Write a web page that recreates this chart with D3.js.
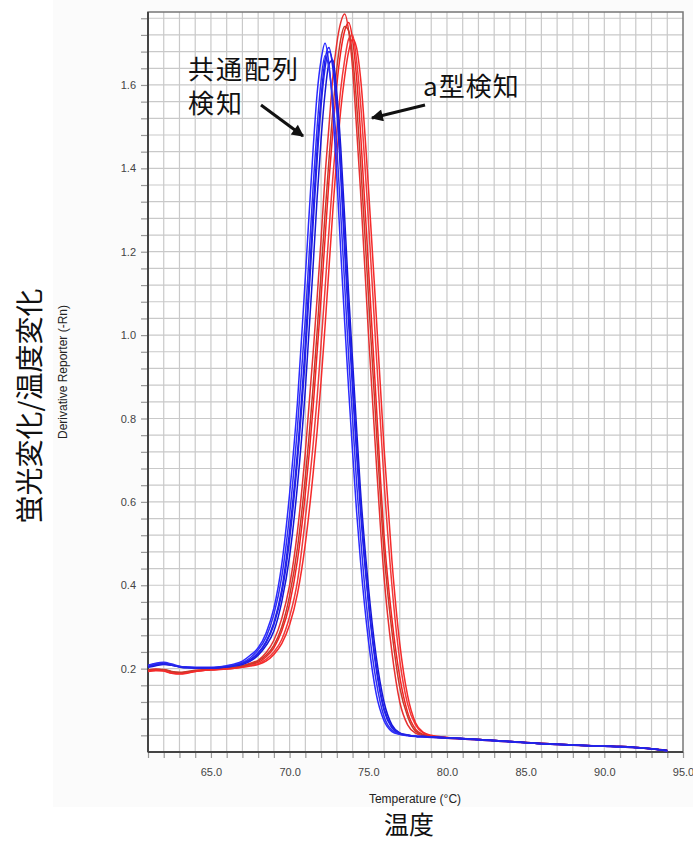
<!DOCTYPE html>
<html>
<head>
<meta charset="utf-8">
<script src="https://cdn.jsdelivr.net/npm/d3@7"></script>
<style>
  body { margin: 0; background: #fff; }
  svg { display: block; }
  .tick text { font-family: "Liberation Sans", Arial, sans-serif; font-size: 11px; fill: #444; }
  .jp { font-family: "Noto Sans CJK JP", sans-serif; fill: #111; }
</style>
</head>
<body>
<svg id="chart" width="693" height="841"></svg>
<script>
// temperatures (°C) shared by every curve
const temps = [61, 61.5, 62, 62.5, 63, 63.5, 64, 65, 66, 66.5, 67, 67.5, 68, 68.5, 69, 69.5, 70, 70.5, 71, 71.5,
  71.75, 72, 72.25, 72.5, 72.75, 73, 73.25, 73.5, 73.75, 74, 74.25, 74.5, 75, 75.5, 76, 76.5, 77, 77.5, 78, 78.5,
  79, 80, 82, 84, 86, 88, 90, 91, 92, 93, 94];

// 共通配列検知 (blue) replicates
const blue1 = [.205, .210, .212, .209, .205, .203, .202, .202, .205, .208, .213, .222, .238, .265, .31, .39, .53, .72, .98, 1.30,
  1.45, 1.57, 1.66, 1.69, 1.64, 1.54, 1.38, 1.20, 1.03, .87, .72, .58, .36, .20, .10, .058, .044, .040, .038, .037,
  .036, .034, .030, .025, .020, .017, .014, .013, .011, .008, .003];
const blue2 = [.208, .213, .215, .211, .206, .204, .203, .203, .207, .211, .218, .232, .25, .285, .345, .45, .62, .84, 1.14, 1.45,
  1.58, 1.66, 1.70, 1.65, 1.54, 1.38, 1.20, 1.03, .87, .72, .58, .46, .27, .14, .075, .049, .042, .039, .037, .036,
  .035, .033, .029, .024, .020, .016, .014, .012, .010, .007, .003];
const blue3 = [.203, .207, .210, .208, .204, .202, .201, .201, .204, .206, .210, .218, .232, .255, .29, .36, .47, .64, .87, 1.17,
  1.33, 1.47, 1.58, 1.65, 1.66, 1.58, 1.45, 1.28, 1.10, .94, .78, .63, .40, .23, .12, .065, .046, .041, .038, .037,
  .036, .034, .030, .025, .021, .017, .014, .013, .011, .008, .004];
const blue4 = [.207, .212, .214, .210, .205, .203, .202, .202, .206, .209, .215, .226, .245, .275, .33, .42, .57, .78, 1.04, 1.36,
  1.50, 1.61, 1.67, 1.64, 1.56, 1.45, 1.29, 1.12, .95, .80, .65, .52, .31, .17, .085, .052, .043, .040, .038, .037,
  .036, .034, .030, .025, .020, .017, .014, .012, .011, .008, .003];
const blue5 = [.204, .209, .211, .208, .204, .202, .202, .202, .204, .207, .212, .220, .236, .262, .305, .38, .51, .70, .95, 1.27,
  1.42, 1.55, 1.64, 1.68, 1.65, 1.56, 1.41, 1.23, 1.06, .90, .74, .60, .37, .21, .105, .06, .045, .040, .038, .037,
  .036, .034, .030, .025, .020, .017, .014, .013, .011, .008, .003];

// a型検知 (red) replicates
const red1 = [.195, .197, .197, .192, .190, .192, .195, .198, .200, .202, .205, .21, .215, .228, .25, .29, .355, .46, .62, .83,
  .96, 1.09, 1.23, 1.37, 1.49, 1.60, 1.68, 1.73, 1.75, 1.71, 1.62, 1.49, 1.17, .84, .52, .32, .18, .095, .055, .042,
  .038, .034, .030, .025, .020, .017, .014, .013, .011, .008, .003];
const red2 = [.197, .199, .196, .190, .189, .191, .194, .197, .200, .203, .207, .213, .22, .238, .268, .32, .40, .53, .72, .96,
  1.09, 1.23, 1.38, 1.50, 1.62, 1.70, 1.75, 1.77, 1.73, 1.64, 1.50, 1.35, 1.01, .70, .42, .24, .12, .065, .045, .039,
  .036, .033, .029, .024, .020, .016, .014, .012, .010, .007, .003];
const red3 = [.193, .195, .195, .191, .188, .190, .193, .197, .199, .201, .204, .208, .212, .222, .24, .27, .325, .41, .56, .74,
  .85, .98, 1.11, 1.25, 1.38, 1.49, 1.59, 1.66, 1.71, 1.72, 1.66, 1.56, 1.28, .96, .65, .40, .22, .115, .065, .045,
  .039, .035, .030, .025, .021, .017, .014, .013, .011, .008, .004];
const red4 = [.196, .198, .198, .193, .191, .193, .196, .198, .201, .203, .206, .211, .218, .232, .256, .30, .375, .49, .66, .88,
  1.01, 1.15, 1.29, 1.42, 1.54, 1.64, 1.71, 1.74, 1.73, 1.67, 1.56, 1.42, 1.10, .78, .48, .29, .155, .085, .05, .041,
  .038, .034, .030, .025, .020, .017, .014, .013, .011, .008, .003];
const red5 = [.194, .196, .194, .189, .187, .189, .193, .197, .199, .201, .203, .206, .21, .218, .234, .26, .305, .38, .50, .67,
  .77, .89, 1.02, 1.16, 1.30, 1.43, 1.54, 1.62, 1.68, 1.71, 1.69, 1.62, 1.36, 1.05, .73, .46, .26, .135, .07, .047,
  .04, .035, .030, .025, .021, .017, .014, .013, .011, .008, .004];

const blueSeries = [blue1, blue2, blue3, blue4, blue5];
const redSeries = [red1, red2, red3, red4, red5];

const xTickLabels = [65, 70, 75, 80, 85, 90, 95];
const yTickLabels = [0.2, 0.4, 0.6, 0.8, 1.0, 1.2, 1.4, 1.6];

const svg = d3.select("#chart");

// faint panel behind the instrument plot
svg.append("rect").attr("x", 53).attr("y", 0).attr("width", 640).attr("height", 807).attr("fill", "#fbfbfb");

const margin = { top: 12, right: 10, bottom: 89, left: 148 };
const width = 693 - margin.left - margin.right;
const height = 841 - margin.top - margin.bottom;

const g = svg.append("g").attr("transform", `translate(${margin.left},${margin.top})`);
g.append("rect").attr("width", width).attr("height", height).attr("fill", "#fff");

const x = d3.scaleLinear().domain([61, 95]).range([0, width]);
const y = d3.scaleLinear().domain([0, 1.775]).range([height, 0]);

const xGrid = d3.range(61, 96, 1);
const yGrid = d3.range(1, 45).map(i => +(i * 0.04).toFixed(2));

// grid
g.append("g").selectAll("line").data(xGrid.slice(1, -1)).join("line")
  .attr("x1", d => x(d)).attr("x2", d => x(d)).attr("y1", 0).attr("y2", height)
  .attr("stroke", "#c9c9c9").attr("stroke-width", 1.2);
g.append("g").selectAll("line").data(yGrid).join("line")
  .attr("x1", 0).attr("x2", width).attr("y1", d => y(d)).attr("y2", d => y(d))
  .attr("stroke", "#c9c9c9").attr("stroke-width", 1.2);

// axes
const xAxis = g.append("g").attr("transform", `translate(0,${height})`)
  .call(d3.axisBottom(x).tickValues(xGrid).tickSize(6).tickPadding(10)
    .tickFormat(d => xTickLabels.includes(d) ? d3.format(".1f")(d) : ""));
const yAxis = g.append("g")
  .call(d3.axisLeft(y).tickValues(yGrid).tickSize(7).tickPadding(5)
    .tickFormat(d => yTickLabels.some(v => Math.abs(v - d) < 1e-6) ? d3.format(".1f")(d) : ""));
[xAxis, yAxis].forEach(a => {
  a.select(".domain").remove();
  a.selectAll(".tick line").attr("stroke", "#999").attr("stroke-width", 1.2);
});

// frame
g.append("rect").attr("width", width).attr("height", height)
  .attr("fill", "none").attr("stroke", "#777").attr("stroke-width", 1.5);
g.append("line").attr("x1", 0).attr("x2", 0).attr("y1", 0).attr("y2", height).attr("stroke", "#444").attr("stroke-width", 2);
g.append("line").attr("x1", 0).attr("x2", width).attr("y1", height).attr("y2", height).attr("stroke", "#444").attr("stroke-width", 2);

// curves
const line = d3.line().x((d, i) => x(temps[i])).y(d => y(d)).curve(d3.curveMonotoneX);
const redColors = ["#f42222", "#e83030", "#f03a3a", "#c83a2a", "#f52a2a"];
const blueColors = ["#1d1df2", "#2a2aff", "#1515d8", "#3030f0", "#2222e6"];
g.append("g").selectAll("path").data(redSeries).join("path")
  .attr("d", line).attr("fill", "none")
  .attr("stroke", (d, i) => redColors[i]).attr("stroke-width", 1.5);
g.append("g").selectAll("path").data(blueSeries).join("path")
  .attr("d", line).attr("fill", "none")
  .attr("stroke", (d, i) => blueColors[i]).attr("stroke-width", 1.5);

// axis titles
svg.append("text").attr("x", 415).attr("y", 803).attr("text-anchor", "middle")
  .style("font-family", "Liberation Sans, Arial, sans-serif").style("font-size", "12px").attr("fill", "#222")
  .text("Temperature (°C)");
svg.append("text").attr("transform", "translate(67,372) rotate(-90)").attr("text-anchor", "middle")
  .style("font-family", "Liberation Sans, Arial, sans-serif").style("font-size", "12px").attr("fill", "#222")
  .text("Derivative Reporter (-Rn)");
svg.append("text").attr("class", "jp").attr("transform", "translate(40,406) rotate(-90)").attr("text-anchor", "middle")
  .style("font-size", "28px").text("蛍光変化/温度変化");
svg.append("text").attr("class", "jp").attr("x", 409).attr("y", 834).attr("text-anchor", "middle")
  .style("font-size", "25px").text("温度");

// annotations
svg.append("defs").append("marker").attr("id", "arrow")
  .attr("viewBox", "0 0 10 10").attr("refX", 9).attr("refY", 5)
  .attr("markerWidth", 4.5).attr("markerHeight", 4).attr("orient", "auto")
  .append("path").attr("d", "M0,0L10,5L0,10Z").attr("fill", "#111");

svg.append("text").attr("class", "jp").attr("x", 188).attr("y", 79)
  .style("font-size", "26px").style("letter-spacing", "2px").text("共通配列");
svg.append("text").attr("class", "jp").attr("x", 188).attr("y", 113)
  .style("font-size", "26px").style("letter-spacing", "2px").text("検知");
svg.append("text").attr("class", "jp").attr("x", 423).attr("y", 96)
  .style("font-size", "26px").style("letter-spacing", "1px").text("a型検知");

svg.append("line").attr("x1", 261).attr("y1", 105).attr("x2", 303).attr("y2", 136)
  .attr("stroke", "#111").attr("stroke-width", 3).attr("marker-end", "url(#arrow)");
svg.append("line").attr("x1", 425).attr("y1", 105).attr("x2", 372).attr("y2", 118)
  .attr("stroke", "#111").attr("stroke-width", 3).attr("marker-end", "url(#arrow)");
</script>
</body>
</html>
